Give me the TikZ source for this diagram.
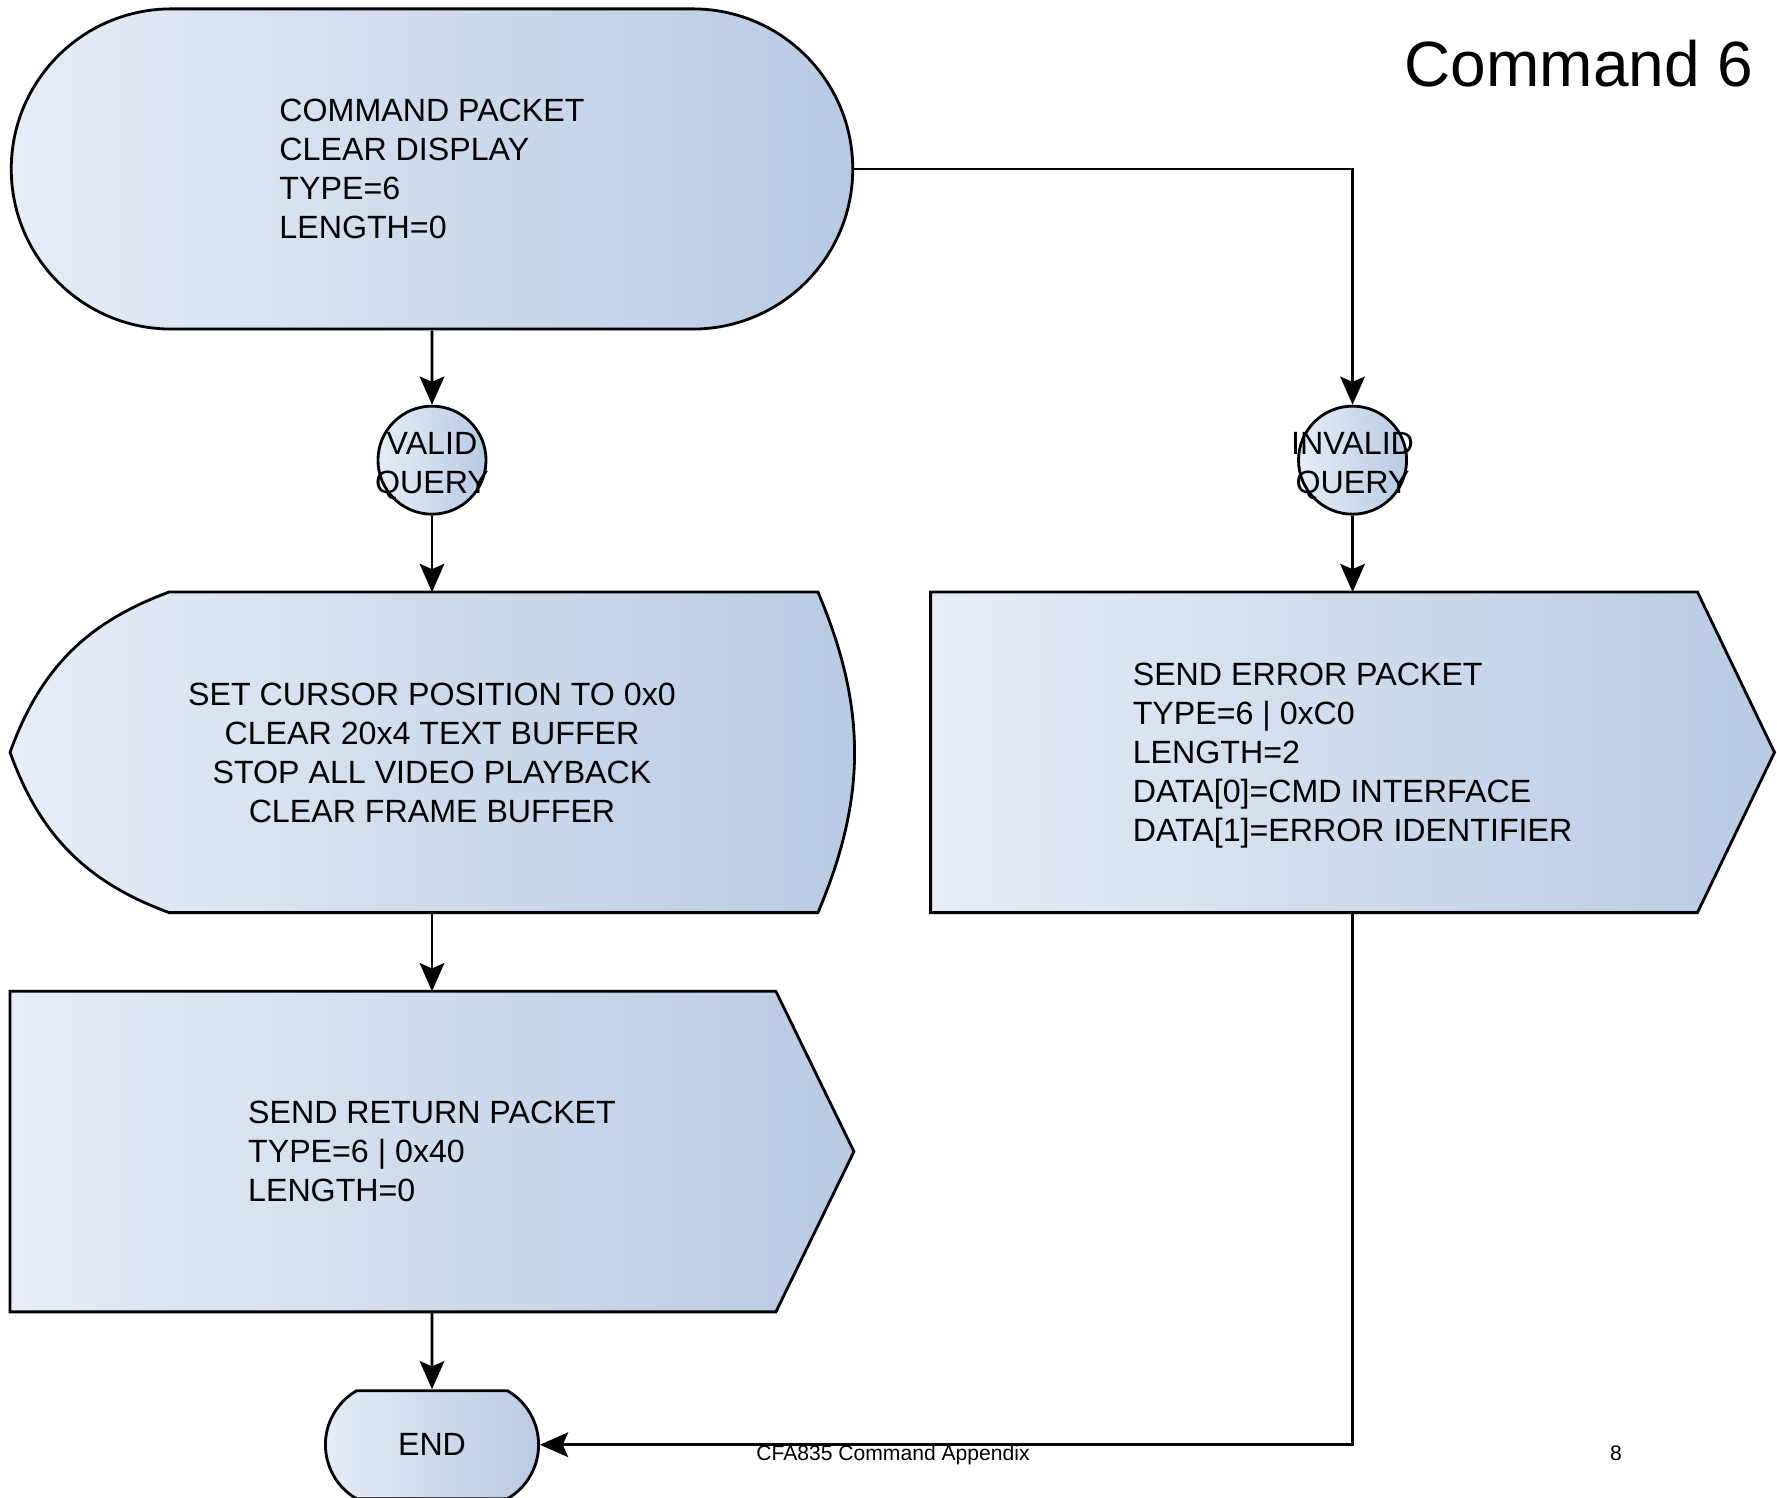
\documentclass[tikz,border=0pt]{standalone}
\usepackage{fontspec}
\setmainfont{Liberation Sans}
\usetikzlibrary{shapes.misc,arrows.meta,backgrounds}
\definecolor{paleblue}{HTML}{E6EDF7}
\definecolor{deepblue}{HTML}{B8CAE3}
\newcommand{\boxfont}{\fontsize{9.15}{11.1}\selectfont}
\tikzstyle{gradient} = [left color=paleblue, right color=deepblue, draw=black, line width=0.8pt]
\tikzstyle{terminal} = [rounded rectangle, gradient, font=\boxfont, inner sep=0pt, text depth=0pt]
\tikzstyle{junction} = [circle, gradient, minimum size=1.08cm, inner sep=0pt]
\tikzstyle{block}    = [rectangle, minimum width=8.42cm, minimum height=3.19cm, inner sep=0pt, text depth=0pt, font=\boxfont]
\tikzstyle{flow}     = [draw, line width=0.8pt]

\begin{document}
\begin{tikzpicture}[x=0.01cm, y=0.01cm, node distance=2.92cm, >={Stealth[length=8pt,width=7pt,inset=1.5pt]}]
  \useasboundingbox (0,0) rectangle (1777,1497);
  \node[terminal, minimum width=8.41cm, minimum height=3.20cm, align=left] (command) at (432,1328) {COMMAND PACKET\\CLEAR DISPLAY\\TYPE=6\\LENGTH=0};
  \node[junction, below of=command, node distance=2.91cm, label={[align=center, font=\boxfont, yshift=-0.06cm]center:VALID\\QUERY}] (valid) {};
  \node[block, below of=valid, align=center] (clear) {SET CURSOR POSITION TO 0x0\\CLEAR 20x4 TEXT BUFFER\\STOP ALL VIDEO PLAYBACK\\CLEAR FRAME BUFFER};
  \node[block, below of=clear, node distance=3.99cm, align=left] (sendret) {SEND RETURN PACKET\\TYPE=6 | 0x40\\LENGTH=0};
  \node[terminal, rounded rectangle arc length=120, minimum width=2.13cm, minimum height=1.08cm, below of=sendret, node distance=2.93cm] (end) {END};
  \node[junction, right of=valid, node distance=9.20cm, label={[align=center, font=\boxfont, yshift=-0.06cm]center:INVALID\\QUERY}] (invalid) {};
  \node[block, below of=invalid, align=left] (senderr) {SEND ERROR PACKET\\TYPE=6 | 0xC0\\LENGTH=2\\DATA[0]=CMD INTERFACE\\DATA[1]=ERROR IDENTIFIER};

  \node[font=\fontsize{18.2}{22}\selectfont, anchor=base east, inner sep=0pt] (title) at (1754,1410) {Command 6};
  \node[font=\fontsize{6}{7}\selectfont, anchor=base, inner sep=0pt] (footer) at (893,37) {CFA835 Command Appendix};
  \node[font=\fontsize{6}{7}\selectfont, anchor=base, inner sep=0pt] (pagenum) at (1616,37) {8};

  \begin{pgfonlayer}{background}
    \path[gradient] ([xshift=1.59cm]clear.north west) -- ([xshift=-0.36cm]clear.north east) to[bend left=23] ([xshift=-0.36cm]clear.south east) -- ([xshift=1.59cm]clear.south west) to[bend left=25] (clear.west) to[bend left=25] ([xshift=1.59cm]clear.north west) -- cycle;
    \path[gradient] (sendret.north west) -- ([xshift=-0.78cm]sendret.north east) -- (sendret.east) -- ([xshift=-0.78cm]sendret.south east) -- (sendret.south west) -- cycle;
    \path[gradient] (senderr.north west) -- ([xshift=-0.77cm]senderr.north east) -- (senderr.east) -- ([xshift=-0.77cm]senderr.south east) -- (senderr.south west) -- cycle;
  \end{pgfonlayer}

  \path[flow, ->] (command) -- (valid);
  \path[flow, ->] (valid) -- (clear);
  \path[flow, ->] (clear) -- (sendret);
  \path[flow, ->] (sendret) -- (end);
  \path[flow, ->] (command.east) -| (invalid);
  \path[flow, ->] (invalid) -- (senderr);
  \path[flow, ->] (senderr) |- (end);
\end{tikzpicture}
\end{document}
